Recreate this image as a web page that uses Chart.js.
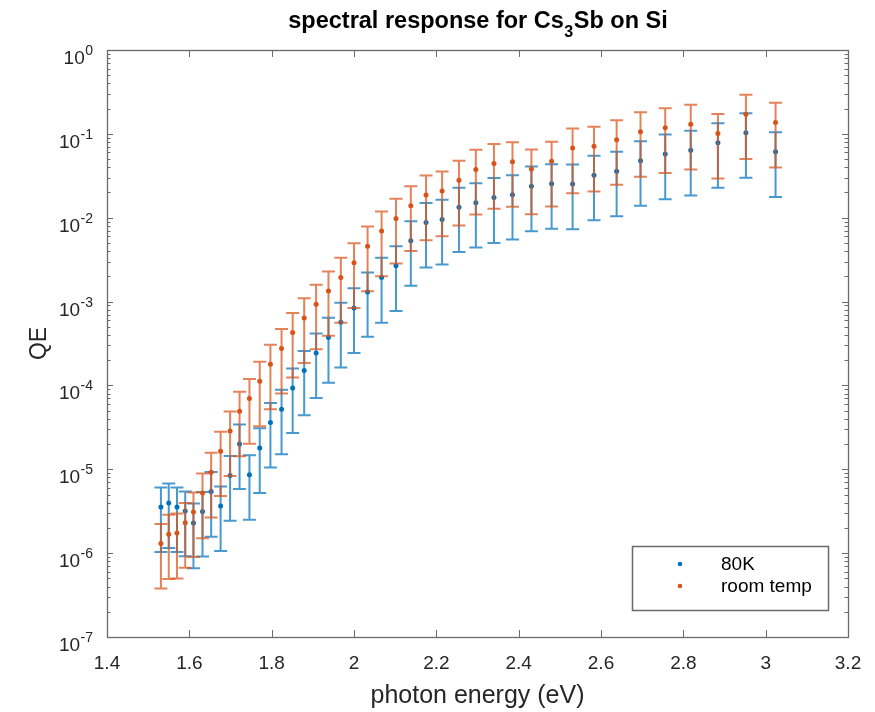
<!DOCTYPE html>
<html><head><meta charset="utf-8">
<script src="https://cdn.jsdelivr.net/npm/chart.js@4.4.0/dist/chart.umd.min.js"></script>
<style>html,body{margin:0;padding:0;background:#fff;}#wrap{width:875px;height:712px;position:relative;}</style>
</head><body><div id="wrap"><canvas id="c" width="875" height="712"></canvas></div>
<script>
// photon energy (eV)
const energy=[1.531,1.550,1.570,1.590,1.610,1.632,1.653,1.676,1.699,1.722,1.746,1.771,1.797,1.824,1.851,1.879,1.908,1.938,1.968,2.000,2.033,2.067,2.102,2.138,2.175,2.214,2.255,2.296,2.340,2.385,2.431,2.480,2.531,2.583,2.638,2.696,2.756,2.818,2.884,2.952,3.024];
// QE at 80K and its error
const qe80K=[3.55e-6,3.96e-6,3.55e-6,3.18e-6,2.29e-6,3.13e-6,5.42e-6,3.65e-6,8.41e-6,2.00e-5,8.6e-6,1.80e-5,3.61e-5,5.20e-5,9.33e-5,1.51e-4,2.44e-4,3.74e-4,5.65e-4,8.41e-4,1.30e-3,1.94e-3,2.67e-3,5.30e-3,8.79e-3,9.55e-3,1.33e-2,1.51e-2,1.74e-2,1.88e-2,2.38e-2,2.54e-2,2.52e-2,3.20e-2,3.57e-2,4.78e-2,5.74e-2,6.36e-2,7.83e-2,0.103,6.11e-2];
const err80K=[2.52e-6,2.81e-6,2.52e-6,2.26e-6,1.63e-6,2.22e-6,3.85e-6,2.59e-6,5.97e-6,1.42e-5,6.1e-6,1.28e-5,2.56e-5,3.69e-5,6.62e-5,1.07e-4,1.73e-4,2.66e-4,4.01e-4,5.97e-4,9.2e-4,1.38e-3,1.90e-3,3.76e-3,6.24e-3,6.78e-3,9.4e-3,1.07e-2,1.24e-2,1.33e-2,1.69e-2,1.80e-2,1.79e-2,2.27e-2,2.53e-2,3.39e-2,4.08e-2,4.52e-2,5.56e-2,7.31e-2,4.34e-2];
// QE at room temperature and its error
const qeRT=[1.30e-6,1.68e-6,1.74e-6,2.31e-6,3.09e-6,5.20e-6,9.20e-6,1.64e-5,2.86e-5,4.92e-5,6.98e-5,1.12e-4,1.79e-4,2.76e-4,4.28e-4,6.39e-4,9.31e-4,1.34e-3,1.94e-3,2.90e-3,4.58e-3,6.92e-3,9.82e-3,1.39e-2,1.86e-2,2.08e-2,2.79e-2,3.77e-2,4.42e-2,4.65e-2,3.80e-2,4.70e-2,6.77e-2,7.10e-2,8.51e-2,0.106,0.118,0.130,0.101,0.171,0.137];
const errRT=[9.2e-7,1.19e-6,1.24e-6,1.64e-6,2.19e-6,3.69e-6,6.53e-6,1.16e-5,2.03e-5,3.49e-5,4.96e-5,7.95e-5,1.27e-4,1.96e-4,3.04e-4,4.54e-4,6.61e-4,9.5e-4,1.38e-3,2.06e-3,3.25e-3,4.91e-3,6.97e-3,9.9e-3,1.32e-2,1.48e-2,1.98e-2,2.68e-2,3.14e-2,3.30e-2,2.70e-2,3.34e-2,4.81e-2,5.04e-2,6.04e-2,7.53e-2,8.38e-2,9.23e-2,7.17e-2,0.121,9.73e-2];
const seriesNames=['80K','room temp'];
const xTickLabels=['1.4','1.6','1.8','2','2.2','2.4','2.6','2.8','3','3.2'];
const yTickExps=['0','-1','-2','-3','-4','-5','-6','-7'];
const titleParts=['spectral response for Cs','3','Sb on Si'];
const xLabel='photon energy (eV)';
const yLabel='QE';

const BLUE='#0072BD', ORANGE='#D95319', AX='#6a6a6a';
const FONT='"Liberation Sans", Arial, Helvetica, sans-serif';
const errs=[err80K,errRT];
const cols=[BLUE,ORANGE];

const errPlugin={
  id:'errbars',
  beforeDatasetDraw(chart,args){
    const i=args.index, ds=chart.data.datasets[i];
    const xs=chart.scales.x, ys=chart.scales.y, ctx=chart.ctx, e=errs[i];
    ctx.save();
    ctx.strokeStyle=cols[i]; ctx.globalAlpha=0.72; ctx.lineWidth=2;
    const a=chart.chartArea;
    ctx.beginPath(); ctx.rect(a.left,a.top,a.right-a.left,a.bottom-a.top); ctx.clip();
    ds.data.forEach((p,k)=>{
      const x=xs.getPixelForValue(p.x);
      const yh=ys.getPixelForValue(p.y+e[k]);
      const yl=ys.getPixelForValue(Math.max(p.y-e[k],1e-9));
      ctx.beginPath();
      ctx.moveTo(x,yh);ctx.lineTo(x,yl);
      ctx.moveTo(x-6.5,yh);ctx.lineTo(x+6.5,yh);
      ctx.moveTo(x-6.5,yl);ctx.lineTo(x+6.5,yl);
      ctx.stroke();
    });
    ctx.restore();
  }
};

const decoPlugin={
  id:'deco',
  afterDraw(chart){
    const ctx=chart.ctx, a=chart.chartArea, xs=chart.scales.x, ys=chart.scales.y;
    ctx.save();
    ctx.strokeStyle=AX; ctx.lineWidth=1.3;
    // box
    ctx.strokeRect(Math.round(a.left)+0.5,Math.round(a.top)+0.5,Math.round(a.right-a.left),Math.round(a.bottom-a.top));
    ctx.beginPath();
    ctx.lineWidth=1;
    // x ticks
    xTickLabels.forEach(t=>{
      const x=Math.round(xs.getPixelForValue(parseFloat(t)))+0.5;
      ctx.moveTo(x,a.bottom);ctx.lineTo(x,a.bottom-7);
      ctx.moveTo(x,a.top);ctx.lineTo(x,a.top+7);
    });
    // y ticks major + minor
    yTickExps.forEach(ex=>{
      const e=parseInt(ex);
      const y=Math.round(ys.getPixelForValue(Math.pow(10,e)))+0.5;
      ctx.moveTo(a.left,y);ctx.lineTo(a.left+6,y);
      ctx.moveTo(a.right,y);ctx.lineTo(a.right-6,y);
      if(e>-7){
        for(let m=2;m<=9;m++){
          const ym=Math.round(ys.getPixelForValue(m*Math.pow(10,e-1)))+0.5;
          ctx.moveTo(a.left,ym);ctx.lineTo(a.left+3.5,ym);
          ctx.moveTo(a.right,ym);ctx.lineTo(a.right-3.5,ym);
        }
      }
    });
    ctx.stroke();
    // x tick labels
    ctx.fillStyle='#262626';
    ctx.font='19px '+FONT; ctx.textAlign='center'; ctx.textBaseline='alphabetic';
    xTickLabels.forEach(t=>{
      ctx.fillText(t,xs.getPixelForValue(parseFloat(t)),669);
    });
    // y tick labels 10^e
    yTickExps.forEach(ex=>{
      const y=ys.getPixelForValue(Math.pow(10,parseInt(ex)));
      ctx.font='14px '+FONT; ctx.textAlign='right';
      const w=ctx.measureText(ex).width;
      ctx.fillText(ex,93,y+5);
      ctx.font='19px '+FONT;
      ctx.fillText('10',93-w-0.5,y+14);
    });
    // axis labels
    ctx.font='25px '+FONT; ctx.textAlign='center';
    ctx.fillText(xLabel,(a.left+a.right)/2,703);
    ctx.save();
    ctx.font='23px '+FONT;
    ctx.translate(46,(a.top+a.bottom)/2); ctx.rotate(-Math.PI/2);
    ctx.fillText(yLabel,0,0);
    ctx.restore();
    // title with subscript
    ctx.fillStyle='#000';
    const fB='bold 23.5px '+FONT, fS='bold 16px '+FONT;
    ctx.font=fB; const w1=ctx.measureText(titleParts[0]).width, w3=ctx.measureText(titleParts[2]).width;
    ctx.font=fS; const w2=ctx.measureText(titleParts[1]).width;
    let tx=(a.left+a.right)/2-(w1+w2+w3)/2;
    ctx.textAlign='left';
    ctx.font=fB; ctx.fillText(titleParts[0],tx,28); tx+=w1+0.5;
    ctx.font=fS; ctx.fillText(titleParts[1],tx,37); tx+=w2+0.5;
    ctx.font=fB; ctx.fillText(titleParts[2],tx,28);
    // legend
    ctx.fillStyle='#fff'; ctx.fillRect(632,546,196,65);
    ctx.strokeStyle=AX; ctx.lineWidth=1.5; ctx.strokeRect(632.5,546.5,196,64);
    const ly=[564,586];
    seriesNames.forEach((n,k)=>{
      ctx.fillStyle=cols[k];
      ctx.beginPath(); ctx.arc(680,ly[k],2.3,0,Math.PI*2); ctx.fill();
      ctx.fillStyle='#000'; ctx.font='19px '+FONT; ctx.textAlign='left'; ctx.textBaseline='middle';
      ctx.fillText(n,721,ly[k]+1);
    });
    ctx.restore();
  }
};

const mk=(ys)=>energy.map((e,i)=>({x:e,y:ys[i]}));
new Chart(document.getElementById('c'),{
  type:'scatter',
  data:{datasets:[
    {label:seriesNames[0],data:mk(qe80K),backgroundColor:BLUE,borderColor:BLUE,pointRadius:2.5,pointBorderWidth:0,order:2},
    {label:seriesNames[1],data:mk(qeRT),backgroundColor:ORANGE,borderColor:ORANGE,pointRadius:2.5,pointBorderWidth:0,order:1}
  ]},
  options:{
    responsive:false,animation:false,devicePixelRatio:1,
    layout:{padding:{top:50,right:27,left:0,bottom:0}},
    plugins:{legend:{display:false},title:{display:false},tooltip:{enabled:false}},
    scales:{
      x:{type:'linear',min:1.4,max:3.2,grid:{display:false},border:{display:false},ticks:{display:false},
         afterFit:s=>{s.height=75;}},
      y:{type:'logarithmic',min:1e-7,max:1,grid:{display:false},border:{display:false},ticks:{display:false},
         afterFit:s=>{s.width=107;}}
    }
  },
  plugins:[errPlugin,decoPlugin]
});
</script></body></html>
